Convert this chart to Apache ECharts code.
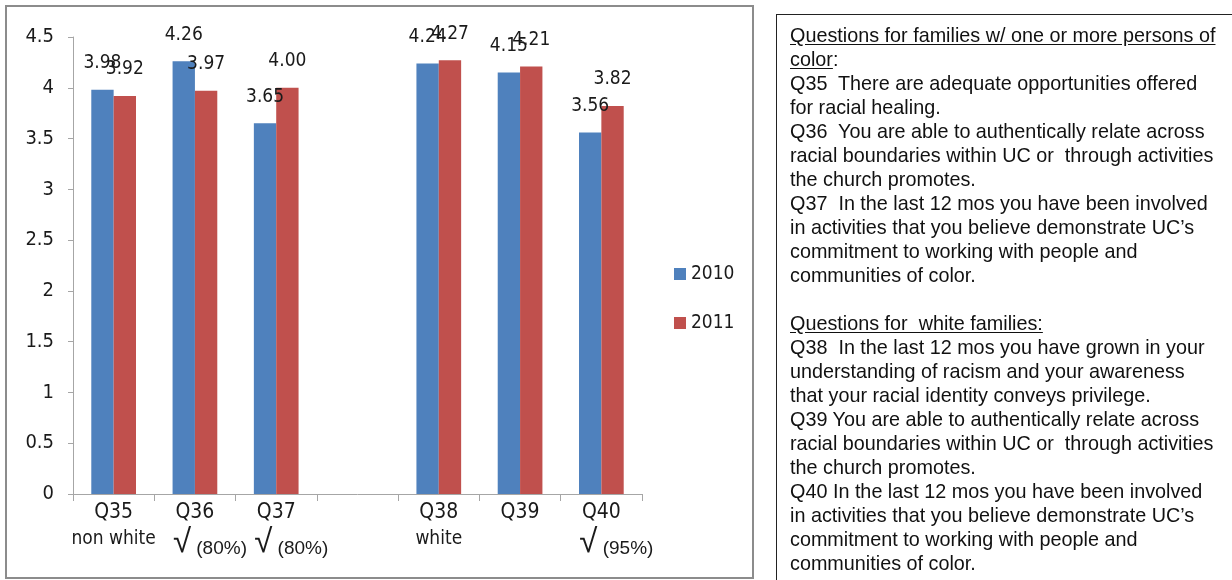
<!DOCTYPE html>
<html>
<head>
<meta charset="utf-8">
<title>Survey Q35-Q40, 2010 vs 2011</title>
<script src="https://cdn.jsdelivr.net/npm/echarts@6/dist/echarts.min.js"></script>
<style>
  html, body { margin: 0; padding: 0; background: #fff; overflow: hidden; }
  #wrap { position: relative; width: 1232px; height: 580px; overflow: hidden; }
  #chart { position: absolute; left: 0; top: 0; width: 1232px; height: 580px; }
  #notes {
    position: absolute;
    left: 776px;
    top: 14px;
    width: 470px;
    height: 580px;
    border: 1.5px solid #222;
    padding: 8px 0 0 13px;
    font-family: "Liberation Sans", Arial, sans-serif;
    font-size: 19.8px;
    line-height: 24px;
    color: #111;
    white-space: pre;
    box-sizing: border-box;
  }
  #notes u { text-decoration: underline; text-underline-offset: 2px; }
</style>
</head>
<body>
<div id="wrap">
  <div id="chart"></div>
  <div id="notes"><u>Questions for families w/ one or more persons of</u>
<u>color</u>:
Q35  There are adequate opportunities offered
for racial healing.
Q36  You are able to authentically relate across
racial boundaries within UC or  through activities
the church promotes.
Q37  In the last 12 mos you have been involved
in activities that you believe demonstrate UC’s
commitment to working with people and
communities of color.

<u>Questions for  white families:</u>
Q38  In the last 12 mos you have grown in your
understanding of racism and your awareness
that your racial identity conveys privilege.
Q39 You are able to authentically relate across
racial boundaries within UC or  through activities
the church promotes.
Q40 In the last 12 mos you have been involved
in activities that you believe demonstrate UC’s
commitment to working with people and
communities of color.</div>
</div>
<script>
// 数据 (one empty slot separates the two question groups)
const categories = ['Q35', 'Q36', 'Q37', '', 'Q38', 'Q39', 'Q40']
const groupNotes = ['non white', '', '', '', 'white', '', ''] // second line under the question
const checkPcts = ['', '(80%)', '(80%)', '', '', '', '(95%)'] // √ marks with percentage
const values2010 = [3.98, 4.26, 3.65, '-', 4.24, 4.15, 3.56]
const values2011 = [3.92, 3.97, 4.00, '-', 4.27, 4.21, 3.82]
const seriesNames = ['2010', '2011']
const yTicks = { min: 0, max: 4.5, interval: 0.5 }

const narrow = '"Liberation Sans Narrow", "DejaVu Sans Condensed", "Liberation Sans", sans-serif'
const colorArr = ['#4F81BD', '#C0504D']

const chartInstance = echarts.init(document.getElementById('chart'), null, { renderer: 'canvas' })

function xLabel (value, index) {
  let txt = '{q|' + value + '}'
  if (groupNotes[index]) {
    txt += '\n{note|' + groupNotes[index] + '}'
  } else if (checkPcts[index]) {
    txt += '\n{sp| }{chk|√}{pct| ' + checkPcts[index] + '}'
  }
  return txt
}

const barLabel = {
  show: true,
  position: 'top',
  distance: 17,
  fontFamily: narrow,
  fontSize: 19,
  color: '#1a1a1a',
  formatter: p => Number(p.value).toFixed(2)
}

const option = {
  animation: false,
  textStyle: { fontFamily: narrow },
  graphic: [
    {
      // 左边图表外框
      type: 'rect',
      shape: { x: 6, y: 6, width: 747, height: 572 },
      style: { fill: 'none', stroke: '#8c8c8c', lineWidth: 2 },
      silent: true
    }
  ],
  grid: {
    left: 73,
    right: 590,
    top: 37,
    bottom: 86
  },
  legend: {
    orient: 'vertical',
    left: 669,
    top: 257,
    itemWidth: 12,
    itemHeight: 12,
    itemGap: 25,
    icon: 'rect',
    textStyle: { fontFamily: narrow, fontSize: 19, lineHeight: 24, color: '#1a1a1a' },
    data: seriesNames
  },
  xAxis: {
    type: 'category',
    data: categories,
    axisLine: { lineStyle: { color: '#a6a6a6', width: 1 } },
    axisTick: { show: true, length: 7, interval: 0, lineStyle: { color: '#a6a6a6' } },
    axisLabel: {
      interval: 0,
      margin: 6,
      color: '#1a1a1a',
      formatter: xLabel,
      rich: {
        q: { fontFamily: narrow, fontSize: 21, lineHeight: 26, color: '#1a1a1a' },
        note: { fontFamily: narrow, fontSize: 19, lineHeight: 26, color: '#1a1a1a' },
        sp: { width: 30, fontSize: 10 },
        chk: { fontFamily: '"Liberation Sans", Arial, sans-serif', fontSize: 33, lineHeight: 34, color: '#1a1a1a' },
        pct: { fontFamily: '"Liberation Sans", Arial, sans-serif', fontSize: 19, lineHeight: 34, padding: [12, 0, 0, 0], color: '#1a1a1a' }
      }
    }
  },
  yAxis: {
    type: 'value',
    min: yTicks.min,
    max: yTicks.max,
    interval: yTicks.interval,
    splitLine: { show: false },
    axisLine: { show: true, lineStyle: { color: '#a6a6a6' } },
    axisTick: { show: true, inside: false, length: 5, lineStyle: { color: '#a6a6a6' } },
    axisLabel: {
      margin: 19,
      fontFamily: narrow,
      fontSize: 20,
      color: '#1a1a1a'
    }
  },
  series: [
    {
      name: seriesNames[0],
      type: 'bar',
      data: values2010,
      barGap: '0%',
      barCategoryGap: '45%',
      itemStyle: { color: colorArr[0] },
      label: barLabel
    },
    {
      name: seriesNames[1],
      type: 'bar',
      data: values2011,
      barGap: '0%',
      barCategoryGap: '45%',
      itemStyle: { color: colorArr[1] },
      label: barLabel
    }
  ]
}

chartInstance.setOption(option)
</script>
</body>
</html>
